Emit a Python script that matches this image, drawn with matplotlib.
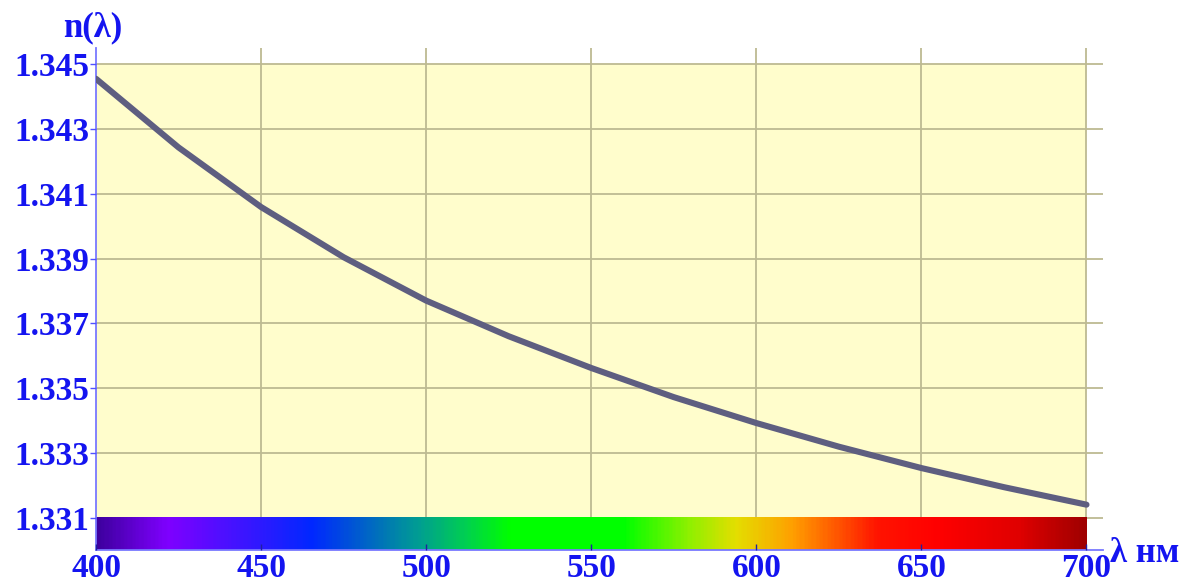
import matplotlib
matplotlib.use("Agg")
import matplotlib.pyplot as plt
import numpy as np
from matplotlib.colors import LinearSegmentedColormap
from matplotlib.patches import Rectangle

# ---- data ----
wavelength = [400, 425, 450, 475, 500, 525, 550, 575, 600, 625, 650, 675, 700]
n_index = [1.34455, 1.34243, 1.34059, 1.33904, 1.3377, 1.3366, 1.33562,
           1.33472, 1.33392, 1.33319, 1.33253, 1.33194, 1.3314]

x_ticks = [400, 450, 500, 550, 600, 650, 700]
y_ticks = [1.331, 1.333, 1.335, 1.337, 1.339, 1.341, 1.343, 1.345]
y_ticklabels = ["1.331", "1.333", "1.335", "1.337", "1.339", "1.341", "1.343", "1.345"]

spec_wl = [400, 421, 465, 498, 512, 525, 560, 580, 594, 611, 637, 655, 680, 700]
spec_colors = ["#3F00A0", "#7F00FF", "#0028FF", "#00A090", "#00D050", "#00FF00",
               "#00FF00", "#90F000", "#E4DE00", "#FFA000", "#FF1400", "#FF0000",
               "#E00000", "#A00000"]

ylabel_text = "n(λ)"
xlabel_text = "λ нм"

# ---- styling ----
BLUE = "#1414F0"
plt.rcParams['font.family'] = ['Liberation Serif', 'DejaVu Serif']

fig = plt.figure(figsize=(11.92, 5.88), dpi=100)
ax = fig.add_axes([96/1192, 1-550/588, (1103-96)/1192, (550-48)/588])

xmin, xmax = 400, 705
ymin, ymax = 1.330, 1.3455
ax.set_xlim(xmin, xmax)
ax.set_ylim(ymin, ymax)

# yellow plot region
ax.add_patch(Rectangle((wavelength[0], ymin), wavelength[-1]-wavelength[0],
                       y_ticks[-1]-ymin, facecolor="#FFFDCC", edgecolor="none", zorder=0.5))

# grid lines
grid_c = "#BDBA92"
for xt in x_ticks[1:]:
    ax.axvline(xt, color=grid_c, lw=1.3, zorder=1.5)
for yt in y_ticks:
    ax.axhline(yt, color=grid_c, lw=1.3, zorder=1.5)

# spectrum bar
pos = [(w - spec_wl[0]) / (spec_wl[-1] - spec_wl[0]) for w in spec_wl]
cmap = LinearSegmentedColormap.from_list("spec", list(zip(pos, spec_colors)))
grad = np.linspace(0, 1, 600).reshape(1, -1)
ax.imshow(grad, cmap=cmap, aspect='auto',
          extent=(spec_wl[0], spec_wl[-1], ymin, y_ticks[0]), zorder=2,
          interpolation='bilinear')

# curve
ax.plot(wavelength, n_index, color="#5E5E80", lw=4.4, solid_capstyle='round',
        solid_joinstyle='round', zorder=4)

# spines
for s in ['top', 'right']:
    ax.spines[s].set_visible(False)
for s in ['left', 'bottom']:
    ax.spines[s].set_color("#7878FF")
    ax.spines[s].set_linewidth(1.3)
ax.set_axisbelow(False)

ax.set_xticks(x_ticks)
ax.set_xticklabels([str(v) for v in x_ticks])
ax.set_yticks(y_ticks)
ax.set_yticklabels(y_ticklabels)

ax.tick_params(axis='x', direction='in', length=4, width=1.0, color="#2020A0",
               pad=2, labelsize=24, labelcolor=BLUE)
ax.tick_params(axis='y', direction='out', length=4, width=1.0, color="#5050FF",
               pad=1, labelsize=24, labelcolor=BLUE)
for lab in ax.get_xticklabels() + ax.get_yticklabels():
    lab.set_fontweight('bold')

fig.text(63/1192, 1-36/588, ylabel_text, fontsize=25, fontweight='bold',
         color=BLUE, ha='left', va='baseline')
fig.text(1110/1192, 1-562/588, xlabel_text, fontsize=25, fontweight='bold',
         color=BLUE, ha='left', va='baseline')

fig.savefig("out.png", dpi=100)
